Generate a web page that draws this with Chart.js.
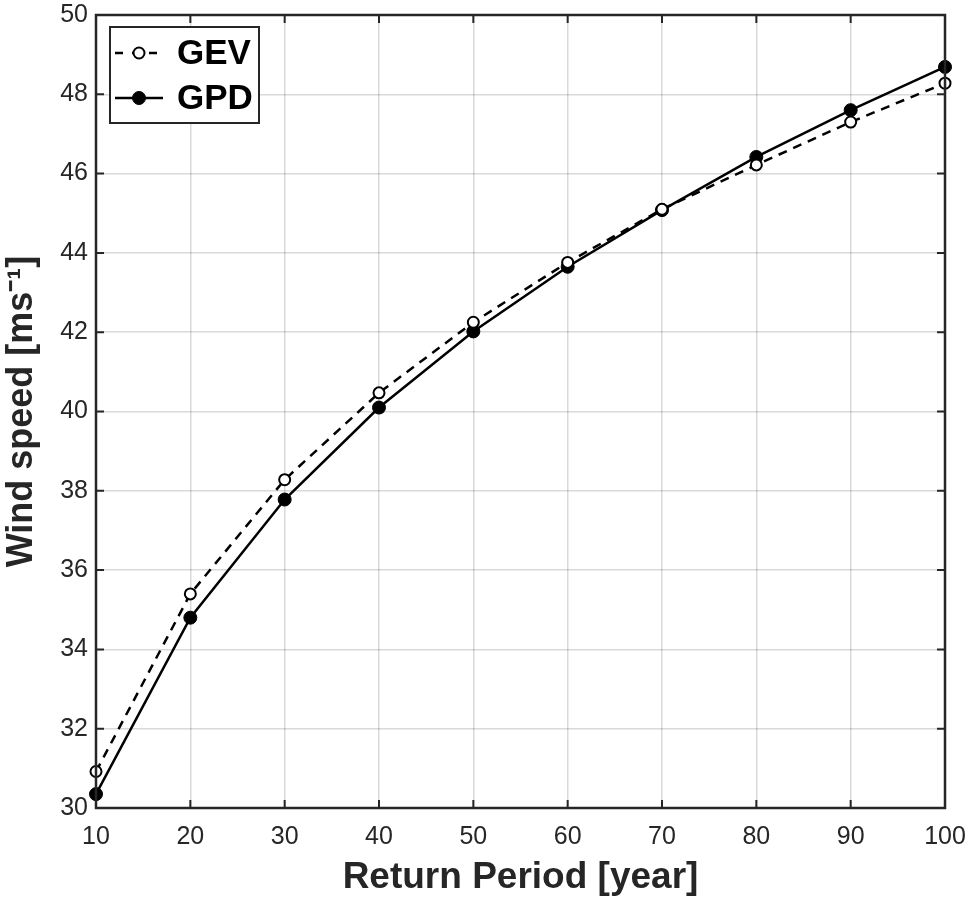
<!DOCTYPE html>
<html>
<head>
<meta charset="utf-8">
<script src="https://cdn.jsdelivr.net/npm/chart.js@4"></script>
<style>
  html, body { margin: 0; padding: 0; background: #fff; }
  #wrap { width: 970px; height: 900px; }
</style>
</head>
<body>
<div id="wrap"><canvas id="chart" width="970" height="900"></canvas></div>
<script>
// return periods (years)
const returnPeriods = [10, 20, 30, 40, 50, 60, 70, 80, 90, 100];
// wind speed estimates (m/s)
const gevValues = [30.92, 35.40, 38.28, 40.47, 42.25, 43.76, 45.10, 46.22, 47.30, 48.28];
const gpdValues = [30.35, 34.80, 37.78, 40.10, 42.02, 43.65, 45.08, 46.42, 47.60, 48.69];
const xTicks = [10, 20, 30, 40, 50, 60, 70, 80, 90, 100];
const yTicks = [30, 32, 34, 36, 38, 40, 42, 44, 46, 48, 50];

const INK = '#262626';
const FONT = '"Liberation Sans", Arial, sans-serif';

// box around the axes + inward tick marks, matlab style
const boxPlugin = {
    id: 'box',
    afterDatasetsDraw(chart) {
        const { ctx, chartArea: a, scales } = chart;
        ctx.save();
        ctx.strokeStyle = INK;
        ctx.lineWidth = 2.5;
        ctx.strokeRect(a.left, a.top, a.right - a.left, a.bottom - a.top);
        ctx.lineWidth = 2;
        const len = 8;
        xTicks.forEach(v => {
            const px = scales.x.getPixelForValue(v);
            ctx.beginPath();
            ctx.moveTo(px, a.bottom); ctx.lineTo(px, a.bottom - len);
            ctx.moveTo(px, a.top); ctx.lineTo(px, a.top + len);
            ctx.stroke();
        });
        yTicks.forEach(v => {
            const py = scales.y.getPixelForValue(v);
            ctx.beginPath();
            ctx.moveTo(a.left, py); ctx.lineTo(a.left + len, py);
            ctx.moveTo(a.right, py); ctx.lineTo(a.right - len, py);
            ctx.stroke();
        });
        ctx.restore();
    }
};

// legend box in the upper left corner
const legendPlugin = {
    id: 'boxLegend',
    afterDraw(chart) {
        const { ctx, chartArea: a } = chart;
        const x0 = a.left + 14, y0 = a.top + 12, w = 149, h = 96;
        ctx.save();
        ctx.fillStyle = '#fff';
        ctx.fillRect(x0, y0, w, h);
        ctx.strokeStyle = INK;
        ctx.lineWidth = 2;
        ctx.strokeRect(x0, y0, w, h);
        chart.data.datasets.forEach((ds, i) => {
            const cy = y0 + 26 + i * 45;
            ctx.strokeStyle = '#000';
            ctx.lineWidth = 2.5;
            ctx.setLineDash(ds.borderDash ? [8, 9] : []);
            ctx.beginPath();
            ctx.moveTo(x0 + 5, cy); ctx.lineTo(x0 + 53, cy);
            ctx.stroke();
            ctx.setLineDash([]);
            ctx.beginPath();
            ctx.arc(x0 + 29, cy, ds.pointRadius, 0, Math.PI * 2);
            ctx.fillStyle = ds.pointBackgroundColor;
            ctx.fill();
            ctx.lineWidth = ds.pointBorderWidth;
            ctx.stroke();
            ctx.fillStyle = '#000';
            ctx.font = 'bold 35px ' + FONT;
            ctx.textBaseline = 'middle';
            ctx.fillText(ds.label, x0 + 67, cy + 1);
        });
        ctx.restore();
    }
};

new Chart(document.getElementById('chart'), {
    type: 'line',
    data: {
        datasets: [{
            label: 'GEV',
            data: returnPeriods.map((x, i) => ({ x, y: gevValues[i] })),
            borderColor: '#000',
            borderWidth: 2.5,
            borderDash: [9, 7],
            pointRadius: 5.5,
            pointBackgroundColor: '#fff',
            pointBorderColor: '#000',
            pointBorderWidth: 2,
            tension: 0
        }, {
            label: 'GPD',
            data: returnPeriods.map((x, i) => ({ x, y: gpdValues[i] })),
            borderColor: '#000',
            borderWidth: 2.5,
            pointRadius: 6.5,
            pointBackgroundColor: '#000',
            pointBorderColor: '#000',
            pointBorderWidth: 1,
            tension: 0
        }]
    },
    options: {
        responsive: false,
        animation: false,
        clip: false,
        layout: { padding: { top: 15, right: 25, left: 0, bottom: 0 } },
        plugins: {
            legend: { display: false },
            tooltip: { enabled: false }
        },
        scales: {
            x: {
                type: 'linear',
                min: 10,
                max: 100,
                afterBuildTicks: s => { s.ticks = xTicks.map(v => ({ value: v })); },
                grid: { color: 'rgba(0,0,0,0.15)', lineWidth: 1.5, tickLength: 0, drawTicks: false },
                border: { display: false },
                ticks: {
                    color: INK,
                    padding: 14,
                    maxRotation: 0,
                    font: { size: 25, family: FONT }
                },
                title: {
                    display: true,
                    text: 'Return Period [year]',
                    color: INK,
                    padding: { top: 2, bottom: 0 },
                    font: { size: 37, weight: 'bold', family: FONT }
                },
                afterFit: s => { s.height = 92; s.paddingLeft = 0; s.paddingRight = 0; }
            },
            y: {
                min: 30,
                max: 50,
                afterBuildTicks: s => { s.ticks = yTicks.map(v => ({ value: v })); },
                grid: { color: 'rgba(0,0,0,0.15)', lineWidth: 1.5, tickLength: 0, drawTicks: false },
                border: { display: false },
                ticks: {
                    color: INK,
                    padding: 8,
                    font: { size: 25, family: FONT }
                },
                title: {
                    display: true,
                    text: 'Wind speed [ms⁻¹]',
                    color: INK,
                    padding: { top: 0, bottom: 4 },
                    font: { size: 36, weight: 'bold', family: FONT }
                },
                afterFit: s => { s.width = 96; s.paddingTop = 0; s.paddingBottom = 0; }
            }
        }
    },
    plugins: [boxPlugin, legendPlugin]
});
</script>
</body>
</html>
